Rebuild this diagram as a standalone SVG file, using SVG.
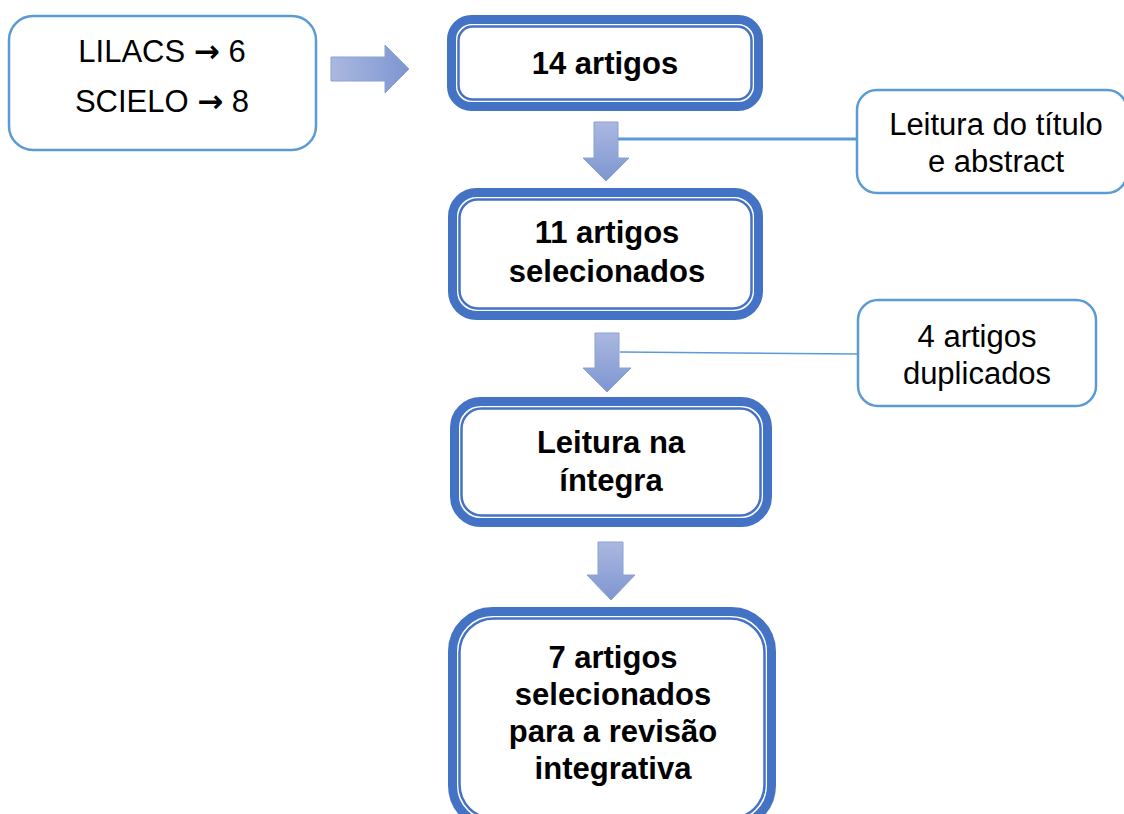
<svg xmlns="http://www.w3.org/2000/svg" width="1124" height="814" viewBox="0 0 1124 814">
<defs>
<linearGradient id="gH" x1="0" y1="0" x2="1" y2="0"><stop offset="0" stop-color="#abb8e0"/><stop offset="1" stop-color="#7d96d0"/></linearGradient>
<linearGradient id="gV" x1="0" y1="0" x2="0" y2="1"><stop offset="0" stop-color="#abb8e0"/><stop offset="1" stop-color="#7d96d0"/></linearGradient>
<style>
text{font-family:"Liberation Sans","DejaVu Sans",Arial,sans-serif;font-size:31px;fill:#000;text-anchor:middle}
.b{font-weight:bold}
.ar{font-family:"DejaVu Sans",sans-serif;font-weight:bold}
.thin{fill:#fff;stroke:#5b9bd5;stroke-width:2.5}
.outer{fill:#fff;stroke:#4472c4;stroke-width:9}
.inner{fill:none;stroke:#4472c4;stroke-width:2.5}
.arr{stroke:#8aa0d6;stroke-width:1}
.conn{stroke:#5b9bd5;fill:none}
</style>
</defs>
<rect width="1124" height="814" fill="#fff"/>
<g id="connectors">
<polygon class="arr" fill="url(#gH)" points="331,57 385,57 385,45 409,69 385,93 385,81 331,81"/>
<polygon class="arr" fill="url(#gV)" points="594,122 618,122 618,158 629,158 606,181 583,158 594,158"/>
<polygon class="arr" fill="url(#gV)" points="595,333 619,333 619,368 631,368 607,392 583,368 595,368"/>
<polygon class="arr" fill="url(#gV)" points="598,542 623,542 623,575 635,575 611,600 587,575 598,575"/>
<line class="conn" x1="618" y1="139" x2="866" y2="139" stroke-width="3"/>
<line class="conn" x1="620" y1="352" x2="858" y2="354" stroke-width="1.5"/>
</g>
<g id="node-sources">
<rect class="thin" x="9" y="16" width="307" height="134" rx="24"/>
<text x="162" y="62">LILACS <tspan class="ar">→</tspan> 6</text>
<text x="162" y="112">SCIELO <tspan class="ar">→</tspan> 8</text>
</g>
<g id="node-14">
<rect class="outer" x="451.5" y="19.5" width="307" height="87" rx="20"/>
<rect class="inner" x="458.5" y="26.5" width="293" height="73" rx="14"/>
<text class="b" x="605" y="74">14 artigos</text>
</g>
<g id="node-leitura-titulo">
<rect class="thin" x="857" y="90" width="270" height="103" rx="20"/>
<text x="996" y="135">Leitura do título</text>
<text x="996" y="172">e abstract</text>
</g>
<g id="node-11">
<rect class="outer" x="452.5" y="192.5" width="306" height="123" rx="24"/>
<rect class="inner" x="459.5" y="199.5" width="292" height="109" rx="18"/>
<text class="b" x="607" y="243">11 artigos</text>
<text class="b" x="607" y="282">selecionados</text>
</g>
<g id="node-duplicados">
<rect class="thin" x="858" y="300" width="238" height="106" rx="20"/>
<text x="977" y="347">4 artigos</text>
<text x="977" y="384">duplicados</text>
</g>
<g id="node-integra">
<rect class="outer" x="454.5" y="401.5" width="313" height="121" rx="26"/>
<rect class="inner" x="461.5" y="408.5" width="299" height="107" rx="20"/>
<text class="b" x="611" y="453">Leitura na</text>
<text class="b" x="611" y="491">íntegra</text>
</g>
<g id="node-7">
<rect class="outer" x="452.5" y="611.5" width="319" height="214" rx="40"/>
<rect class="inner" x="459.5" y="618.5" width="305" height="200" rx="34"/>
<text class="b" x="613" y="668">7 artigos</text>
<text class="b" x="613" y="705">selecionados</text>
<text class="b" x="613" y="742">para a revisão</text>
<text class="b" x="613" y="779">integrativa</text>
</g>
</svg>
